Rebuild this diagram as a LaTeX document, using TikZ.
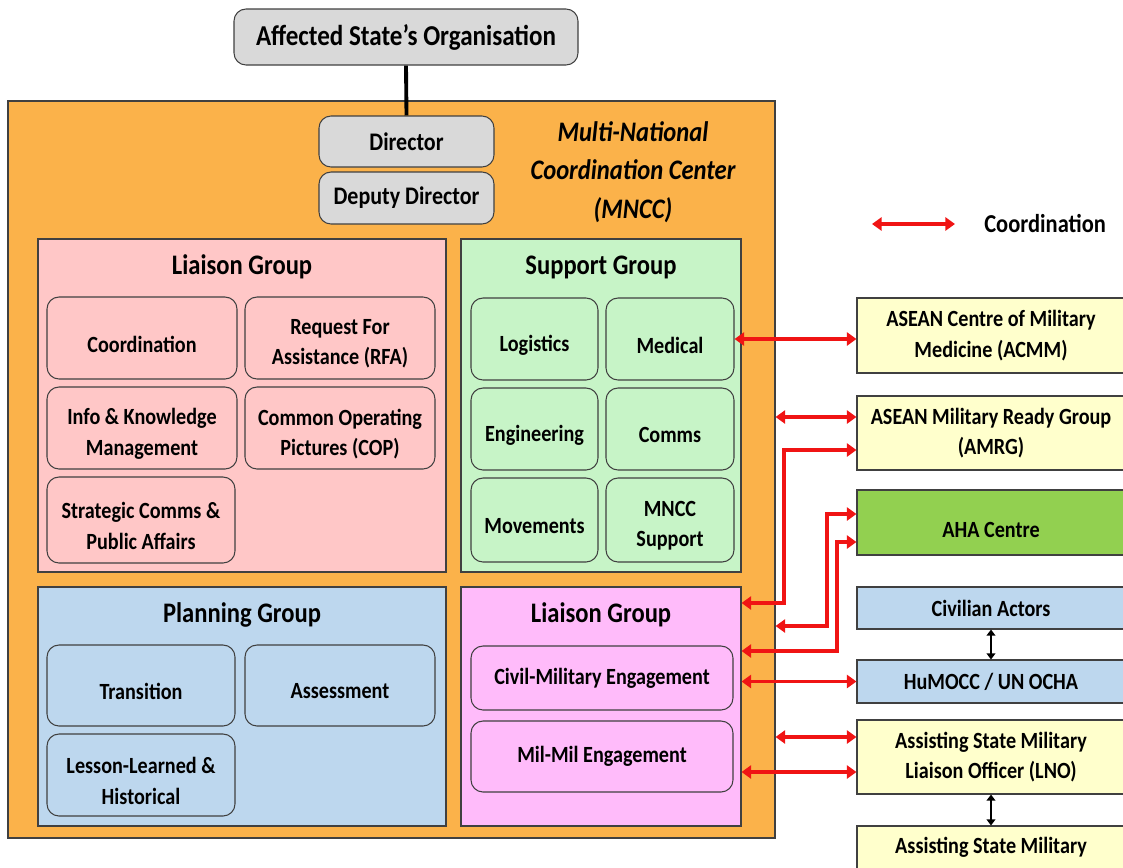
\documentclass[tikz,border=0pt]{standalone}
\usepackage{fontspec}
\setmainfont{Carlito}[FakeStretch=0.87]
\usetikzlibrary{positioning, arrows.meta}
\definecolor{mnccOrange}{RGB}{251,178,74}
\definecolor{greyFill}{RGB}{217,217,217}
\definecolor{liaisonPink}{RGB}{255,199,199}
\definecolor{supportGreen}{RGB}{199,244,199}
\definecolor{planningBlue}{RGB}{189,215,238}
\definecolor{engageMagenta}{RGB}{255,187,250}
\definecolor{partnerYellow}{RGB}{255,255,204}
\definecolor{ahaGreen}{RGB}{146,208,80}
\definecolor{lineGrey}{RGB}{64,64,64}
\definecolor{coordRed}{RGB}{240,20,20}
\tikzstyle{chart} = [x = .02cm, y = -.02cm]
\tikzstyle{boxStyle} = [draw=lineGrey, line width=.6pt, inner sep=0pt, align=center, font=\fontsize{13.2}{17.3}\selectfont\bfseries]
\tikzstyle{roundStyle} = [boxStyle, rounded corners=.24cm]
\tikzstyle{topStyle} = [roundStyle, font=\fontsize{14.4}{17}\selectfont\bfseries]
\tikzstyle{bigStyle} = [roundStyle, font=\fontsize{16.4}{19}\selectfont\bfseries]
\tikzstyle{groupTitle} = [font=\fontsize{16.1}{19}\selectfont\bfseries]
\tikzstyle{coordArrow} = [coordRed, line width=2.1pt, {Triangle[length=5.5pt,width=7.5pt]}-{Triangle[length=5.5pt,width=7.5pt]}]
\tikzstyle{linkArrow} = [black, line width=1.2pt, {Triangle[length=3.5pt,width=5pt]}-{Triangle[length=3.5pt,width=5pt]}]
\newcommand{\textDrop}{0cm}
\newcommand{\boxAt}[8]{\node [#2, fill=#3, minimum width={(#6-#4)*.02cm}, minimum height={(#7-#5)*.02cm}] (#1) at ({(#4+#6)/2}, {(#5+#7)/2}) {};
  \node [#2, draw=none, fill=none, minimum size=0pt] (#1Text) at ([yshift=-\textDrop]#1.center) {#8};}
\newcommand{\roundBox}[7]{\boxAt{#1}{roundStyle}{#2}{#3}{#4}{#5}{#6}{#7}}
\newcommand{\groupBox}[7]{\node [boxStyle, fill=#2, minimum width={(#5-#3)*.02cm}, minimum height={(#6-#4)*.02cm}] (#1) at ({(#3+#5)/2}, {(#4+#6)/2}) {};
  \node [groupTitle] (#1Title) at ({(#3+#5)/2}, #4 + 28) {#7};}
\newcommand{\sideBox}[5]{\boxAt{#1}{boxStyle}{#2}{857}{#3}{1125}{#4}{#5}}

\begin{document}
\begin{tikzpicture}[chart]
  \useasboundingbox (0,0) rectangle (1123,867);
  \groupBox{mncc}{mnccOrange}{8}{101}{775}{838}{}
  \boxAt{affected}{bigStyle}{greyFill}{234}{9}{578}{65}{Affected State’s Organisation}
  \boxAt{director}{topStyle}{greyFill}{319}{116}{494}{167}{Director}
  \boxAt{deputy}{topStyle}{greyFill}{319}{172}{494}{224}{Deputy Director}
  \draw [line width=2.2pt] (affected.south) -- (director.north);
  \node [font=\fontsize{16.1}{22}\selectfont\bfseries\itshape, align=center] (mnccTitle) at (633,172) {Multi-National\\Coordination Center\\(MNCC)};

  % groups inside the centre
  \renewcommand{\textDrop}{.12cm}
  \groupBox{liaisonOne}{liaisonPink}{38}{239}{446}{572}{Liaison Group}
  \roundBox{coordination}{liaisonPink}{47}{297}{237}{379}{Coordination}
  \roundBox{rfa}{liaisonPink}{245}{297}{435}{379}{Request For\\Assistance (RFA)}
  \roundBox{knowledge}{liaisonPink}{47}{387}{237}{469}{Info \& Knowledge\\Management}
  \roundBox{cop}{liaisonPink}{245}{387}{435}{469}{Common Operating\\Pictures (COP)}
  \roundBox{stratComms}{liaisonPink}{47}{477}{235}{563}{Strategic Comms \&\\Public Affairs}

  \groupBox{support}{supportGreen}{461}{239}{741}{572}{Support Group}
  \roundBox{logistics}{supportGreen}{471}{298}{598}{380}{Logistics}
  \roundBox{medical}{supportGreen}{606}{298}{734}{380}{Medical}
  \roundBox{engineering}{supportGreen}{471}{388}{598}{470}{Engineering}
  \roundBox{comms}{supportGreen}{606}{388}{734}{470}{Comms}
  \roundBox{movements}{supportGreen}{471}{478}{598}{562}{Movements}
  \roundBox{mnccSupport}{supportGreen}{606}{478}{734}{562}{MNCC\\Support}

  \groupBox{planning}{planningBlue}{38}{587}{446}{826}{Planning Group}
  \roundBox{transition}{planningBlue}{47}{645}{235}{726}{Transition}
  \roundBox{assessment}{planningBlue}{245}{645}{435}{726}{Assessment}
  \roundBox{lessons}{planningBlue}{47}{734}{235}{816}{Lesson-Learned \&\\Historical}

  \renewcommand{\textDrop}{0cm}
  \groupBox{liaisonTwo}{engageMagenta}{461}{587}{741}{826}{Liaison Group}
  \roundBox{civMil}{engageMagenta}{471}{646}{733}{710}{Civil-Military Engagement}
  \roundBox{milMil}{engageMagenta}{471}{721}{733}{792}{Mil-Mil Engagement}

  % partners on the right
  \sideBox{acmm}{partnerYellow}{298}{373}{ASEAN Centre of Military\\Medicine (ACMM)}
  \sideBox{amrg}{partnerYellow}{396}{470}{ASEAN Military Ready Group\\(AMRG)}
  \renewcommand{\textDrop}{.14cm}
  \sideBox{aha}{ahaGreen}{490}{555}{AHA Centre}
  \renewcommand{\textDrop}{0cm}
  \sideBox{civilian}{planningBlue}{587}{629}{Civilian Actors}
  \sideBox{humocc}{planningBlue}{660}{703}{HuMOCC / UN OCHA}
  \sideBox{lno}{partnerYellow}{720}{794}{Assisting State Military\\Liaison Officer (LNO)}
  \renewcommand{\textDrop}{-.32cm}
  \sideBox{assisting}{partnerYellow}{826}{900}{Assisting State Military}

  % legend
  \coordinate (legendTail) at (872,224);
  \coordinate (legendHead) at (955,224);
  \node [font=\fontsize{14.7}{17}\selectfont\bfseries, anchor=west, inner sep=0pt] (legendText) at (984,224) {Coordination};
  \draw [coordArrow] (legendTail) -- (legendHead);

  % coordination links
  \draw [coordArrow] (medical.east) -- (medical.east -| acmm.west);
  \coordinate (amrgLink) at (0,417);
  \draw [coordArrow] (mncc.east |- amrgLink) -- (amrg.west |- amrgLink);
  \coordinate (amrgBendTop) at (784,450);
  \coordinate (amrgBendLow) at (784,603);
  \draw [coordArrow] (amrg.west |- amrgBendTop) -- (amrgBendTop) -- (amrgBendLow) -- (liaisonTwo.east |- amrgBendLow);
  \coordinate (ahaBendTop) at (827,514);
  \coordinate (ahaBendLow) at (827,626);
  \draw [coordArrow] (aha.west |- ahaBendTop) -- (ahaBendTop) -- (ahaBendLow) -- (mncc.east |- ahaBendLow);
  \coordinate (ahaLowTop) at (837,542);
  \coordinate (ahaLowLow) at (837,651);
  \draw [coordArrow] (aha.west |- ahaLowTop) -- (ahaLowTop) -- (ahaLowLow) -- (liaisonTwo.east |- ahaLowLow);
  \draw [coordArrow] (liaisonTwo.east |- humocc.west) -- (humocc.west);
  \coordinate (lnoLinkTop) at (0,737);
  \coordinate (lnoLinkLow) at (0,772);
  \draw [coordArrow] (mncc.east |- lnoLinkTop) -- (lno.west |- lnoLinkTop);
  \draw [coordArrow] (liaisonTwo.east |- lnoLinkLow) -- (lno.west |- lnoLinkLow);

  % reporting links
  \draw [linkArrow] (civilian.south) -- (humocc.north);
  \draw [linkArrow] (lno.south) -- (assisting.north);
\end{tikzpicture}
\end{document}
